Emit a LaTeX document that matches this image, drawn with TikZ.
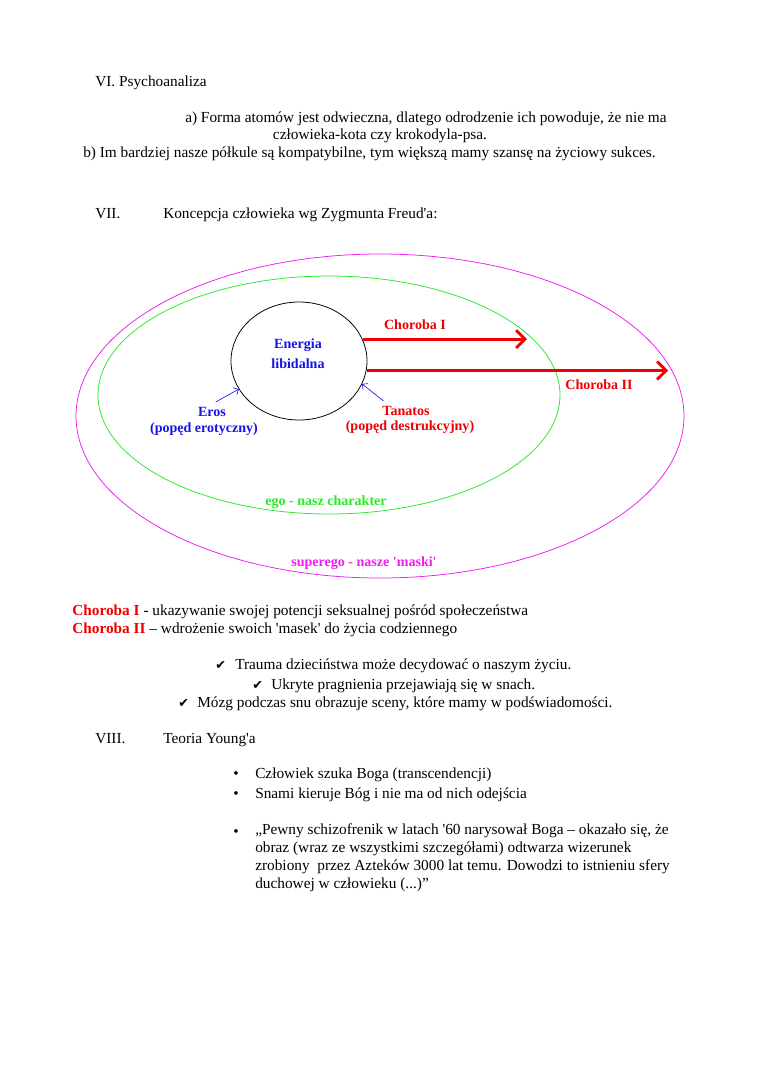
\documentclass[tikz,border=0pt]{standalone}
\usepackage{fontspec}
\setmainfont{Liberation Serif}
\newfontfamily\symfont{DejaVu Sans}
\usetikzlibrary{arrows.meta,shapes.geometric}
\definecolor{chred}{RGB}{240,0,0}
\definecolor{libblue}{RGB}{20,20,230}
\definecolor{egogreen}{RGB}{40,235,40}
\definecolor{supmag}{RGB}{240,30,240}
\newcommand{\apo}{\textquotesingle}

\begin{document}
\begin{tikzpicture}[x=0.783pt,y=-0.783pt,font=\fontsize{12}{14.1}\selectfont,
  txt/.style={anchor=base west,inner sep=0pt},
  lbl/.style={font=\fontsize{11}{15.7}\selectfont\bfseries,inner sep=0pt,align=center},
  bigarrow/.style={chred,line width=2.4pt,-{Straight Barb[length=7pt,width=14pt,line width=2.2pt]}},
  thinarrow/.style={libblue,line width=0.5pt,-{Straight Barb[length=3pt,width=6pt]}}]
  \fill[white] (0,0) rectangle (760,1075);
  \useasboundingbox (0,0) rectangle (760,1075);

  % section VI
  \node[txt] (hVI) at (95,86) {VI. Psychoanaliza};
  \node[txt] (atoms) at (185,122) {a) Forma atomów jest odwieczna, dlatego odrodzenie ich powoduje, że nie ma};
  \node[inner sep=0pt,anchor=base] (atoms2) at (380,139) {człowieka-kota czy krokodyla-psa.};
  \node[txt] (halves) at (83,157) {b) Im bardziej nasze półkule są kompatybilne, tym większą mamy szansę na życiowy sukces.};

  % section VII
  \node[txt] (hVII) at (95,218) {VII.};
  \node[txt] (tVII) at (163,218) {Koncepcja człowieka wg Zygmunta Freud\apo a:};

  % diagram
  \draw[supmag,line width=0.6pt] (380,416) ellipse [x radius=304, y radius=162];
  \draw[egogreen,line width=0.6pt] (329,395) ellipse [x radius=231, y radius=119];
  \node[draw,ellipse,line width=0.6pt,minimum width=106.5pt,minimum height=92.4pt,inner sep=0pt] (libido) at (299,361) {};
  \node[lbl,libblue] (energy) at (298,354) {Energia\\libidalna};

  \coordinate (ch1end) at (527,339);
  \coordinate (ch2end) at (668,370);
  \draw[bigarrow] (libido.19) -- (libido.19 -| ch1end);
  \draw[bigarrow] (libido.-8) -- (libido.-8 -| ch2end);
  \node[lbl,chred] (ch1) at (415,325) {Choroba I};
  \node[lbl,chred] (ch2) at (599,385) {Choroba II};

  \node[lbl,libblue] (eros) at (212,412) {Eros};
  \node[lbl,libblue] (erosdesc) at (204,429) {(popęd erotyczny)};
  \node[lbl,chred] (tanatos) at (406,411) {Tanatos};
  \node[lbl,chred] (tanatosdesc) at (410,427) {(popęd destrukcyjny)};
  \draw[thinarrow] ([xshift=3pt,yshift=4pt]eros.north) -- (libido.205);
  \draw[thinarrow] ([xshift=1pt,yshift=4pt]tanatos.north west) -- (libido.-20);

  \node[lbl,egogreen] (ego) at (326,502) {ego - nasz charakter};
  \node[lbl,supmag] (superego) at (364,563) {superego - nasze \apo maski\apo};

  % definitions
  \node[txt] (defI) at (72,615) {{\color{chred}\bfseries Choroba I} - ukazywanie swojej potencji seksualnej pośród społeczeństwa};
  \node[txt] (defII) at (72,633) {{\color{chred}\bfseries Choroba II} – wdrożenie swoich \apo masek\apo{} do życia codziennego};

  \foreach \x/\y/\name in {215/669/tick1,252/689/tick2,178/707/tick3}
    \node[txt,font=\symfont\fontsize{10}{12}\selectfont] (\name) at (\x,\y) {✔};
  \node[txt] (trauma) at (235,669) {Trauma dzieciństwa może decydować o naszym życiu.};
  \node[txt] (desires) at (271,689) {Ukryte pragnienia przejawiają się w snach.};
  \node[txt] (brain) at (197,707) {Mózg podczas snu obrazuje sceny, które mamy w podświadomości.};

  % section VIII
  \node[txt] (hVIII) at (95,743) {VIII.};
  \node[txt] (tVIII) at (163,743) {Teoria Young\apo a};

  \foreach \y/\name in {778/bul1,798/bul2,836/bul3}
    \node[txt] (\name) at (233,\y) {•};
  \node[txt] (god) at (255,778) {Człowiek szuka Boga (transcendencji)};
  \node[txt] (dreams) at (255,798) {Snami kieruje Bóg i nie ma od nich odejścia};
  \node[txt,anchor=north west,align=left] (quote) at (255,823) {„Pewny schizofrenik w latach \apo 60 narysował Boga – okazało się, że\\
    obraz (wraz ze wszystkimi szczegółami) odtwarza wizerunek\\
    zrobiony\ \ przez Azteków 3000 lat temu. Dowodzi to istnieniu sfery\\
    duchowej w człowieku (...)”};
\end{tikzpicture}
\end{document}
